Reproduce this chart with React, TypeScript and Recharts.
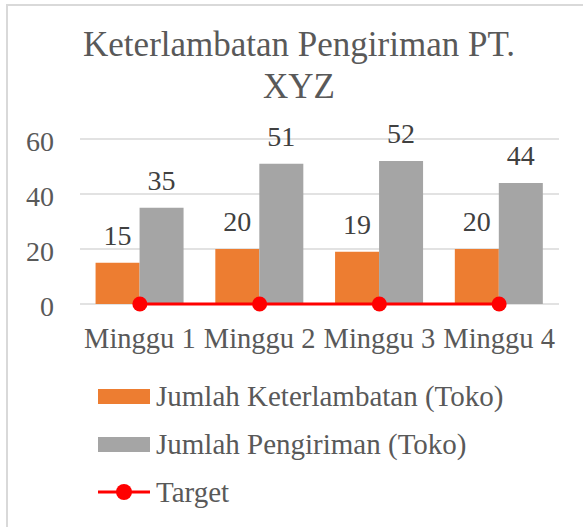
import { ComposedChart, Bar, Line, XAxis, YAxis, CartesianGrid, LabelList, Legend } from 'recharts';

const WEEKS = ['Minggu 1', 'Minggu 2', 'Minggu 3', 'Minggu 4'];
const LATE = [15, 20, 19, 20];
const SHIPPED = [35, 51, 52, 44];
const TARGET = [0, 0, 0, 0];
const Y_TICKS = [0, 20, 40, 60];

const SERIES_NAMES = ['Jumlah Keterlambatan (Toko)', 'Jumlah Pengiriman (Toko)', 'Target'];
const TITLE_LINES = ['Keterlambatan Pengiriman PT.', 'XYZ'];

const FONT = '"Liberation Serif", "Times New Roman", serif';
const ORANGE = '#ED7D31';
const GRAY = '#A5A5A5';
const RED = '#FF0000';
const TEXT = '#595959';

const data = WEEKS.map((week, i) => ({
  week,
  late: LATE[i],
  shipped: SHIPPED[i],
  target: TARGET[i],
}));

const YTick = ({ x, y, payload }: any) => (
  <text x={x} y={y} dy={12} textAnchor="end" fill={TEXT} fontSize={28} fontFamily={FONT}>
    {payload.value}
  </text>
);

const XTick = ({ x, y, payload }: any) => (
  <text x={x} y={y} dy={44} textAnchor="middle" fill={TEXT} fontSize={28.5} fontFamily={FONT}>
    {payload.value}
  </text>
);

const LegendBox = () => (
  <div style={{ fontFamily: FONT, fontSize: 29, color: TEXT }}>
    {SERIES_NAMES.map((name, i) => (
      <div key={name} style={{ height: 48, display: 'flex', alignItems: 'center', whiteSpace: 'nowrap' }}>
        {i < 2 ? (
          <div style={{ width: 52, height: 15, background: i === 0 ? ORANGE : GRAY }} />
        ) : (
          <svg width={52} height={18}>
            <line x1={0} y1={9} x2={52} y2={9} stroke={RED} strokeWidth={3} />
            <circle cx={26} cy={9} r={8} fill={RED} />
          </svg>
        )}
        <span style={{ marginLeft: 6, lineHeight: '48px' }}>{name}</span>
      </div>
    ))}
  </div>
);

export default function App() {
  return (
    <div style={{ position: 'fixed', left: 0, top: 0, width: 583, height: 527, overflow: 'hidden', background: '#fff' }}>
      <div
        style={{
          position: 'absolute',
          left: 6,
          top: 4,
          width: 640,
          height: 640,
          borderLeft: '2px solid #D9D9D9',
          borderTop: '2px solid #D9D9D9',
        }}
      />
      <div
        style={{
          position: 'absolute',
          left: 0,
          top: 24,
          width: 598,
          textAlign: 'center',
          fontFamily: FONT,
          fontSize: 35,
          lineHeight: '42px',
          color: TEXT,
        }}
      >
        {TITLE_LINES.map((line) => (
          <div key={line}>{line}</div>
        ))}
      </div>
      <div style={{ position: 'absolute', left: 0, top: 0 }}>
        <ComposedChart
          width={583}
          height={527}
          data={data}
          margin={{ top: 139, right: 24, left: 0, bottom: 163 }}
          barCategoryGap="13%"
          barGap={0}
        >
          <CartesianGrid vertical={false} stroke="#D9D9D9" strokeWidth={1.5} />
          <XAxis
            dataKey="week"
            axisLine={false}
            tickLine={false}
            tickSize={0}
            tickMargin={0}
            height={60}
            interval={0}
            tick={<XTick />}
          />
          <YAxis
            domain={[0, 60]}
            ticks={Y_TICKS}
            width={80}
            axisLine={false}
            tickLine={false}
            tickSize={0}
            tickMargin={26}
            tick={<YTick />}
          />
          <Legend
            layout="vertical"
            verticalAlign="middle"
            align="center"
            wrapperStyle={{ position: 'absolute', left: 98, top: 372, width: 480, height: 144 }}
            content={() => <LegendBox />}
          />
          <Bar dataKey="late" name={SERIES_NAMES[0]} fill={ORANGE} isAnimationActive={false}>
            <LabelList dataKey="late" position="top" offset={18} fill="#404040" fontSize={28} fontFamily={FONT} />
          </Bar>
          <Bar dataKey="shipped" name={SERIES_NAMES[1]} fill={GRAY} isAnimationActive={false}>
            <LabelList dataKey="shipped" position="top" offset={18} fill="#404040" fontSize={28} fontFamily={FONT} />
          </Bar>
          <Line
            type="linear"
            dataKey="target"
            name={SERIES_NAMES[2]}
            stroke={RED}
            strokeWidth={3}
            dot={{ r: 7.5, fill: RED, stroke: RED, strokeWidth: 0 }}
            activeDot={false}
            isAnimationActive={false}
          />
        </ComposedChart>
      </div>
    </div>
  );
}
